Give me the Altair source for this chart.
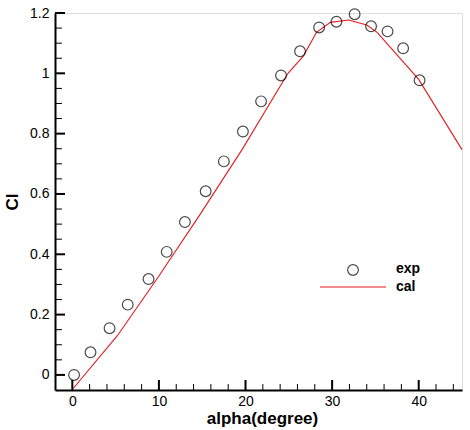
import altair as alt
import pandas as pd

exp_alpha = [0.2, 2.1, 4.3, 6.4, 8.8, 10.9, 13.0, 15.4, 17.5, 19.7, 21.8, 24.1, 26.3, 28.5, 30.5, 32.6, 34.5, 36.4, 38.2, 40.1]
exp_cl = [0.0, 0.075, 0.155, 0.233, 0.318, 0.408, 0.507, 0.609, 0.708, 0.807, 0.907, 0.993, 1.073, 1.152, 1.171, 1.196, 1.156, 1.139, 1.083, 0.977]

cal_alpha = [0.1, 5.2, 9.9, 14.7, 19.6, 24.9, 26.7, 28.2, 29.8, 31.9, 34.0, 35.2, 40.0, 45.0]
cal_cl = [-0.045, 0.13, 0.324, 0.53, 0.747, 1.0, 1.058, 1.136, 1.169, 1.177, 1.16, 1.136, 0.98, 0.747]

x_major = [0, 10, 20, 30, 40]
x_minor = [2, 4, 6, 8, 12, 14, 16, 18, 22, 24, 26, 28, 32, 34, 36, 38, 42, 44]
y_major = [0, 0.2, 0.4, 0.6, 0.8, 1.0, 1.2]
y_minor = [0.05, 0.1, 0.15, 0.25, 0.3, 0.35, 0.45, 0.5, 0.55, 0.65, 0.7, 0.75, 0.85, 0.9, 0.95, 1.05, 1.1, 1.15]

W, H = 407, 377
FONT = "Liberation Sans"

xs = alt.Scale(domain=[-2, 45], nice=False, zero=False)
ys = alt.Scale(domain=[-0.05, 1.2], nice=False, zero=False)

exp_df = pd.DataFrame({"alpha": exp_alpha, "cl": exp_cl})
cal_df = pd.DataFrame({"alpha": cal_alpha, "cl": cal_cl})

xaxis = alt.Axis(values=x_major, format="d", ticks=False, grid=False, domainColor="black",
                 domainWidth=2, labelFont=FONT, labelFontSize=14, labelColor="black",
                 labelPadding=4, title="alpha(degree)", titleFont=FONT, titleFontSize=17,
                 titleFontWeight="bold", titleColor="black", titlePadding=2, titleX=207)
yaxis = alt.Axis(values=y_major, format="~g", ticks=False, grid=False, domainColor="black",
                 domainWidth=2, labelFont=FONT, labelFontSize=14, labelColor="black",
                 labelPadding=6, title="Cl", titleFont=FONT, titleFontSize=17,
                 titleFontWeight="bold", titleColor="black", titlePadding=8)

line = alt.Chart(cal_df).mark_line(color="#e41a1c", strokeWidth=1.1).encode(
    x=alt.X("alpha:Q", scale=xs, axis=xaxis),
    y=alt.Y("cl:Q", scale=ys, axis=yaxis),
)
pts = alt.Chart(exp_df).mark_point(shape="circle", filled=False, color="black", size=115, strokeWidth=1.2).encode(
    x=alt.X("alpha:Q", scale=xs),
    y=alt.Y("cl:Q", scale=ys),
)

xmaj = alt.Chart(pd.DataFrame({"v": x_major})).mark_rule(color="black", strokeWidth=2).encode(
    x=alt.X("v:Q", scale=xs), y=alt.value(H), y2=alt.value(H - 10))
xmin = alt.Chart(pd.DataFrame({"v": x_minor})).mark_rule(color="black", strokeWidth=1).encode(
    x=alt.X("v:Q", scale=xs), y=alt.value(H), y2=alt.value(H - 6))
ymaj = alt.Chart(pd.DataFrame({"v": y_major})).mark_rule(color="black", strokeWidth=2).encode(
    y=alt.Y("v:Q", scale=ys), x=alt.value(0), x2=alt.value(10))
ymin = alt.Chart(pd.DataFrame({"v": y_minor})).mark_rule(color="black", strokeWidth=1).encode(
    y=alt.Y("v:Q", scale=ys), x=alt.value(0), x2=alt.value(7))

one = alt.Data(values=[{"a": 1}])
leg_pt = alt.Chart(one).mark_point(shape="circle", filled=False, color="black", size=115, strokeWidth=1.2).encode(
    x=alt.value(298), y=alt.value(257))
leg_line = alt.Chart(one).mark_rule(color="#e41a1c", strokeWidth=1.1).encode(
    x=alt.value(265), x2=alt.value(331), y=alt.value(274))
leg_t1 = alt.Chart(one).mark_text(text="exp", font=FONT, fontSize=14, fontWeight="bold", align="left",
                                  baseline="middle", color="black").encode(x=alt.value(341), y=alt.value(256))
leg_t2 = alt.Chart(one).mark_text(text="cal", font=FONT, fontSize=14, fontWeight="bold", align="left",
                                  baseline="middle", color="black").encode(x=alt.value(341), y=alt.value(274))

chart = alt.layer(line, pts, xmaj, xmin, ymaj, ymin, leg_pt, leg_line, leg_t1, leg_t2).properties(
    width=W, height=H,
    autosize=alt.AutoSizeParams(type="none"),
    padding={"left": 55, "top": 13, "right": 8, "bottom": 40},
).configure_view(stroke=None).configure(background="white")

chart.save("out.html", embed_options={"renderer": "svg", "actions": False})
